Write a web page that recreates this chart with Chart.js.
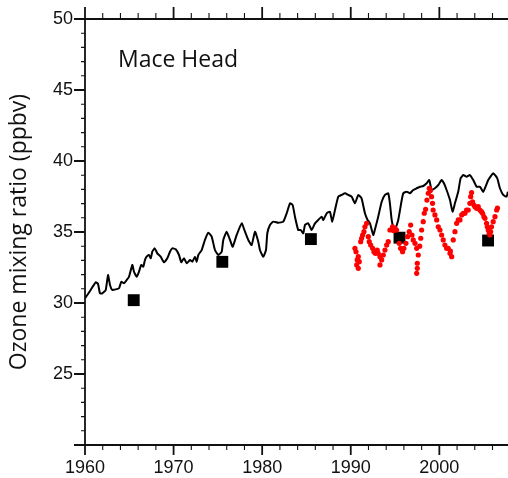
<!DOCTYPE html>
<html>
<head>
<meta charset="utf-8">
<title>Mace Head ozone</title>
<script src="https://cdn.jsdelivr.net/npm/chart.js@4.4.1/dist/chart.umd.min.js"></script>
<style>
  html, body { margin: 0; padding: 0; background: #fff; }
  #wrap { width: 508px; height: 478px; }
</style>
</head>
<body>
<div id="wrap"><canvas id="ozone-chart" width="508" height="478"></canvas></div>
<script>
// axis labels
const xLabels = [1960, 1970, 1980, 1990, 2000];
const yLabels = [25, 30, 35, 40, 45, 50];

// reconstructed background ozone (black line)
const lineYears = [
  1960.00, 1960.26, 1960.64, 1961.21, 1961.47, 1961.69, 1961.95, 1962.34, 1962.60, 1962.82,
  1963.08, 1963.47, 1963.84, 1964.10, 1964.40, 1964.71, 1964.97, 1965.34, 1965.53, 1965.84,
  1966.09, 1966.35, 1966.58, 1966.77, 1966.96, 1967.22, 1967.42, 1967.60, 1967.87, 1968.16,
  1968.54, 1968.92, 1969.29, 1969.59, 1969.85, 1970.24, 1970.61, 1970.87, 1971.17, 1971.48,
  1971.85, 1972.11, 1972.42, 1972.61, 1972.79, 1973.17, 1973.54, 1973.92, 1974.30, 1974.67,
  1975.05, 1975.43, 1975.61, 1975.99, 1976.37, 1976.67, 1977.12, 1977.69, 1978.06, 1978.43,
  1978.81, 1979.19, 1979.56, 1979.75, 1980.12, 1980.43, 1980.58, 1980.88, 1981.25, 1981.82,
  1982.38, 1982.77, 1983.14, 1983.44, 1983.70, 1984.07, 1984.35, 1984.64, 1984.83, 1985.20,
  1985.59, 1985.96, 1986.33, 1986.72, 1986.90, 1987.28, 1987.65, 1987.91, 1988.22, 1988.59,
  1988.97, 1989.35, 1989.72, 1990.10, 1990.47, 1990.85, 1991.22, 1991.60, 1991.90, 1992.17,
  1992.54, 1992.81, 1993.10, 1993.49, 1993.86, 1994.23, 1994.42, 1994.62, 1994.91, 1995.36,
  1995.74, 1995.93, 1996.31, 1996.68, 1997.05, 1997.44, 1997.81, 1998.18, 1998.57, 1998.86,
  1999.13, 1999.50, 1999.88, 2000.26, 2000.52, 2000.82, 2001.20, 2001.49, 2001.76, 2002.13,
  2002.40, 2002.70, 2003.08, 2003.45, 2003.83, 2004.21, 2004.58, 2004.96, 2005.52, 2006.08,
  2006.54, 2006.84, 2007.21, 2007.59, 2007.74
];
const lineValues = [
  30.33, 30.56, 30.92, 31.46, 31.34, 30.68, 30.68, 30.92, 31.97, 31.27,
  30.92, 30.96, 31.04, 31.50, 31.39, 31.62, 31.85, 32.68, 32.20, 31.85,
  32.20, 32.68, 32.56, 33.03, 33.26, 33.38, 33.15, 33.61, 33.85, 33.50,
  33.26, 32.87, 33.15, 33.61, 33.85, 33.78, 33.38, 32.87, 33.15, 32.80,
  33.03, 32.91, 33.26, 32.91, 33.38, 33.73, 34.44, 34.95, 34.67, 33.73,
  33.38, 33.61, 34.44, 35.02, 34.44, 33.96, 34.79, 35.61, 35.02, 34.44,
  34.08, 35.02, 34.32, 33.73, 33.26, 33.73, 34.91, 35.49, 35.73, 35.65,
  35.73, 36.32, 37.02, 36.90, 36.08, 35.14, 35.14, 34.91, 35.49, 35.61,
  35.14, 35.61, 35.85, 36.08, 35.85, 36.32, 36.43, 35.73, 36.55, 37.49,
  37.61, 37.73, 37.61, 37.49, 37.02, 37.61, 37.37, 36.32, 35.85, 35.61,
  34.79, 35.37, 36.08, 37.13, 37.61, 37.73, 37.02, 35.85, 35.02, 35.85,
  37.20, 37.73, 37.84, 37.73, 37.96, 38.08, 38.19, 38.24, 38.43, 38.66,
  37.96, 38.08, 38.31, 38.66, 38.43, 37.96, 37.25, 36.43, 37.02, 37.84,
  38.78, 39.01, 38.89, 39.01, 38.66, 38.19, 38.19, 37.84, 38.66, 39.13,
  38.78, 38.08, 37.61, 37.49, 37.84
];

// decadal means (black squares)
const squareYears = [1965.5, 1975.5, 1985.5, 1995.5, 2005.5];
const squareValues = [30.2, 32.9, 34.5, 34.6, 34.4];

// monthly observations (red dots)
const redYears = [
  1990.47, 1990.59, 1990.67, 1990.73, 1990.85, 1990.85, 1990.96, 1991.12, 1991.23, 1991.34,
  1991.49, 1991.60, 1991.79, 1991.98, 1992.09, 1992.25, 1992.47, 1992.62, 1992.77, 1992.99,
  1993.10, 1993.30, 1993.30, 1993.49, 1993.67, 1993.86, 1994.05, 1994.23, 1994.42, 1994.72,
  1994.81, 1994.99, 1995.17, 1995.47, 1995.62, 1995.85, 1996.00, 1996.23, 1996.41, 1996.60,
  1996.76, 1996.91, 1997.05, 1997.25, 1997.44, 1997.62, 1997.51, 1997.51, 1997.44, 1997.78,
  1997.90, 1998.00, 1998.18, 1998.30, 1998.45, 1998.60, 1998.75, 1998.86, 1998.99, 1999.12,
  1999.23, 1999.30, 1999.50, 1999.70, 1999.88, 2000.07, 2000.26, 2000.44, 2000.63, 2000.82,
  2001.00, 2001.20, 2001.25, 2001.39, 2001.57, 2001.76, 2001.95, 2002.13, 2002.33, 2002.52,
  2002.70, 2002.89, 2003.07, 2003.26, 2003.45, 2003.54, 2003.64, 2003.75, 2003.90, 2004.02,
  2004.21, 2004.39, 2004.58, 2004.76, 2004.88, 2005.03, 2005.15, 2005.33, 2005.41, 2005.52,
  2005.63, 2005.71, 2005.79, 2005.89, 2006.08, 2006.28, 2006.47, 2006.56
];
const redValues = [
  33.85, 33.61, 32.68, 33.03, 33.26, 32.44, 32.91, 34.32, 34.56, 34.79,
  35.02, 35.37, 35.61, 34.67, 34.32, 34.08, 33.85, 33.61, 33.50, 33.73,
  33.50, 33.26, 32.68, 33.03, 33.38, 33.73, 34.08, 34.32, 35.14, 35.37,
  35.10, 35.26, 35.14, 34.20, 33.85, 33.61, 33.85, 34.20, 34.67, 35.02,
  35.49, 34.79, 34.44, 34.20, 33.85, 33.38, 32.80, 32.44, 32.09, 34.00,
  34.56, 35.14, 35.73, 36.32, 36.60, 37.25, 37.73, 38.08, 37.92, 37.49,
  37.02, 36.55, 36.20, 35.85, 35.37, 35.14, 34.79, 34.44, 34.08, 33.85,
  33.85, 33.50, 33.66, 33.26, 34.44, 35.02, 35.61, 35.85, 35.85, 36.20,
  36.32, 36.32, 36.55, 36.55, 37.02, 37.49, 37.78, 37.13, 36.90, 36.78,
  36.67, 36.78, 36.55, 36.43, 36.32, 36.08, 35.96, 35.61, 35.37, 35.14,
  34.91, 34.79, 35.02, 35.37, 35.73, 36.08, 36.55, 36.69
];

const toPoints = (xs, ys) => xs.map((x, i) => ({ x: x, y: ys[i] }));

// axis frame with major/minor ticks on bottom, top and left, plus site name
const framePlugin = {
  id: 'frame',
  afterDraw(chart) {
    const ctx = chart.ctx;
    const xs = chart.scales.x;
    const ys = chart.scales.y;
    const { left, right, top, bottom } = chart.chartArea;
    ctx.save();
    ctx.strokeStyle = '#111';

    ctx.lineWidth = 1.8;
    ctx.beginPath();
    ctx.moveTo(left, top); ctx.lineTo(right, top);
    ctx.moveTo(left, top); ctx.lineTo(left, bottom); ctx.lineTo(right, bottom);
    ctx.stroke();

    const drawTicks = (major) => {
      ctx.beginPath();
      for (let yr = 1960; yr <= 2006; yr += 2) {
        if ((yr % 10 === 0) !== major) continue;
        const px = xs.getPixelForValue(yr);
        ctx.moveTo(px, bottom); ctx.lineTo(px, bottom + (major ? 10 : 5));
        ctx.moveTo(px, top); ctx.lineTo(px, top - (major ? 12 : 6));
      }
      for (let v = 20; v <= 50; v++) {
        if ((v % 5 === 0) !== major) continue;
        const py = ys.getPixelForValue(v);
        ctx.moveTo(left, py); ctx.lineTo(left - (major ? 11 : 4), py);
      }
      ctx.stroke();
    };
    ctx.lineWidth = 1.1;
    drawTicks(false);
    ctx.lineWidth = 1.8;
    drawTicks(true);

    ctx.fillStyle = '#111';
    ctx.font = '23px "Open Sans"';
    ctx.textBaseline = 'alphabetic';
    ctx.fillText('Mace Head', 118, 67);
    ctx.restore();
  }
};

const tickFont = { family: 'Liberation Sans', size: 18 };

new Chart(document.getElementById('ozone-chart'), {
  type: 'scatter',
  data: {
    datasets: [
      {
        label: 'Observed',
        data: toPoints(redYears, redValues),
        showLine: false,
        pointRadius: 2.6,
        pointBorderWidth: 0,
        pointBackgroundColor: '#ff0000'
      },
      {
        label: 'Background',
        data: toPoints(lineYears, lineValues),
        showLine: true,
        borderColor: '#000',
        borderWidth: 2,
        tension: 0.15,
        pointRadius: 0
      },
      {
        label: 'Decadal mean',
        data: toPoints(squareYears, squareValues),
        showLine: false,
        pointStyle: 'rect',
        pointRadius: 8.4,
        pointBorderWidth: 0,
        pointBackgroundColor: '#000'
      }
    ]
  },
  options: {
    responsive: false,
    devicePixelRatio: 1,
    animation: false,
    layout: { autoPadding: false, padding: { top: 19, right: 0, left: 0, bottom: 0 } },
    plugins: { legend: { display: false }, tooltip: { enabled: false } },
    scales: {
      x: {
        type: 'linear',
        min: 1960,
        max: 2007.75,
        grid: { display: false, drawTicks: false },
        border: { display: false },
        afterBuildTicks: s => { s.ticks = xLabels.map(v => ({ value: v })); },
        afterFit: s => {
          s.height = 33;
          s.paddingLeft = 0;
          s.paddingRight = 0;
        },
        ticks: {
          padding: 12,
          color: '#111',
          font: tickFont,
          maxRotation: 0,
          autoSkip: false,
          callback: v => String(v)
        }
      },
      y: {
        type: 'linear',
        min: 20,
        max: 50,
        grid: { display: false, drawTicks: false },
        border: { display: false },
        afterBuildTicks: s => { s.ticks = yLabels.map(v => ({ value: v })); },
        afterFit: s => {
          s.width = 85;
          s.paddingTop = 0;
          s.paddingBottom = 0;
        },
        title: {
          display: true,
          text: 'Ozone mixing ratio (ppbv)',
          color: '#111',
          font: { family: 'Open Sans', size: 23 },
          padding: { top: 6, bottom: 0 }
        },
        ticks: {
          padding: 12,
          color: '#111',
          font: tickFont,
          callback: v => String(v)
        }
      }
    }
  },
  plugins: [framePlugin]
});
</script>
</body>
</html>
